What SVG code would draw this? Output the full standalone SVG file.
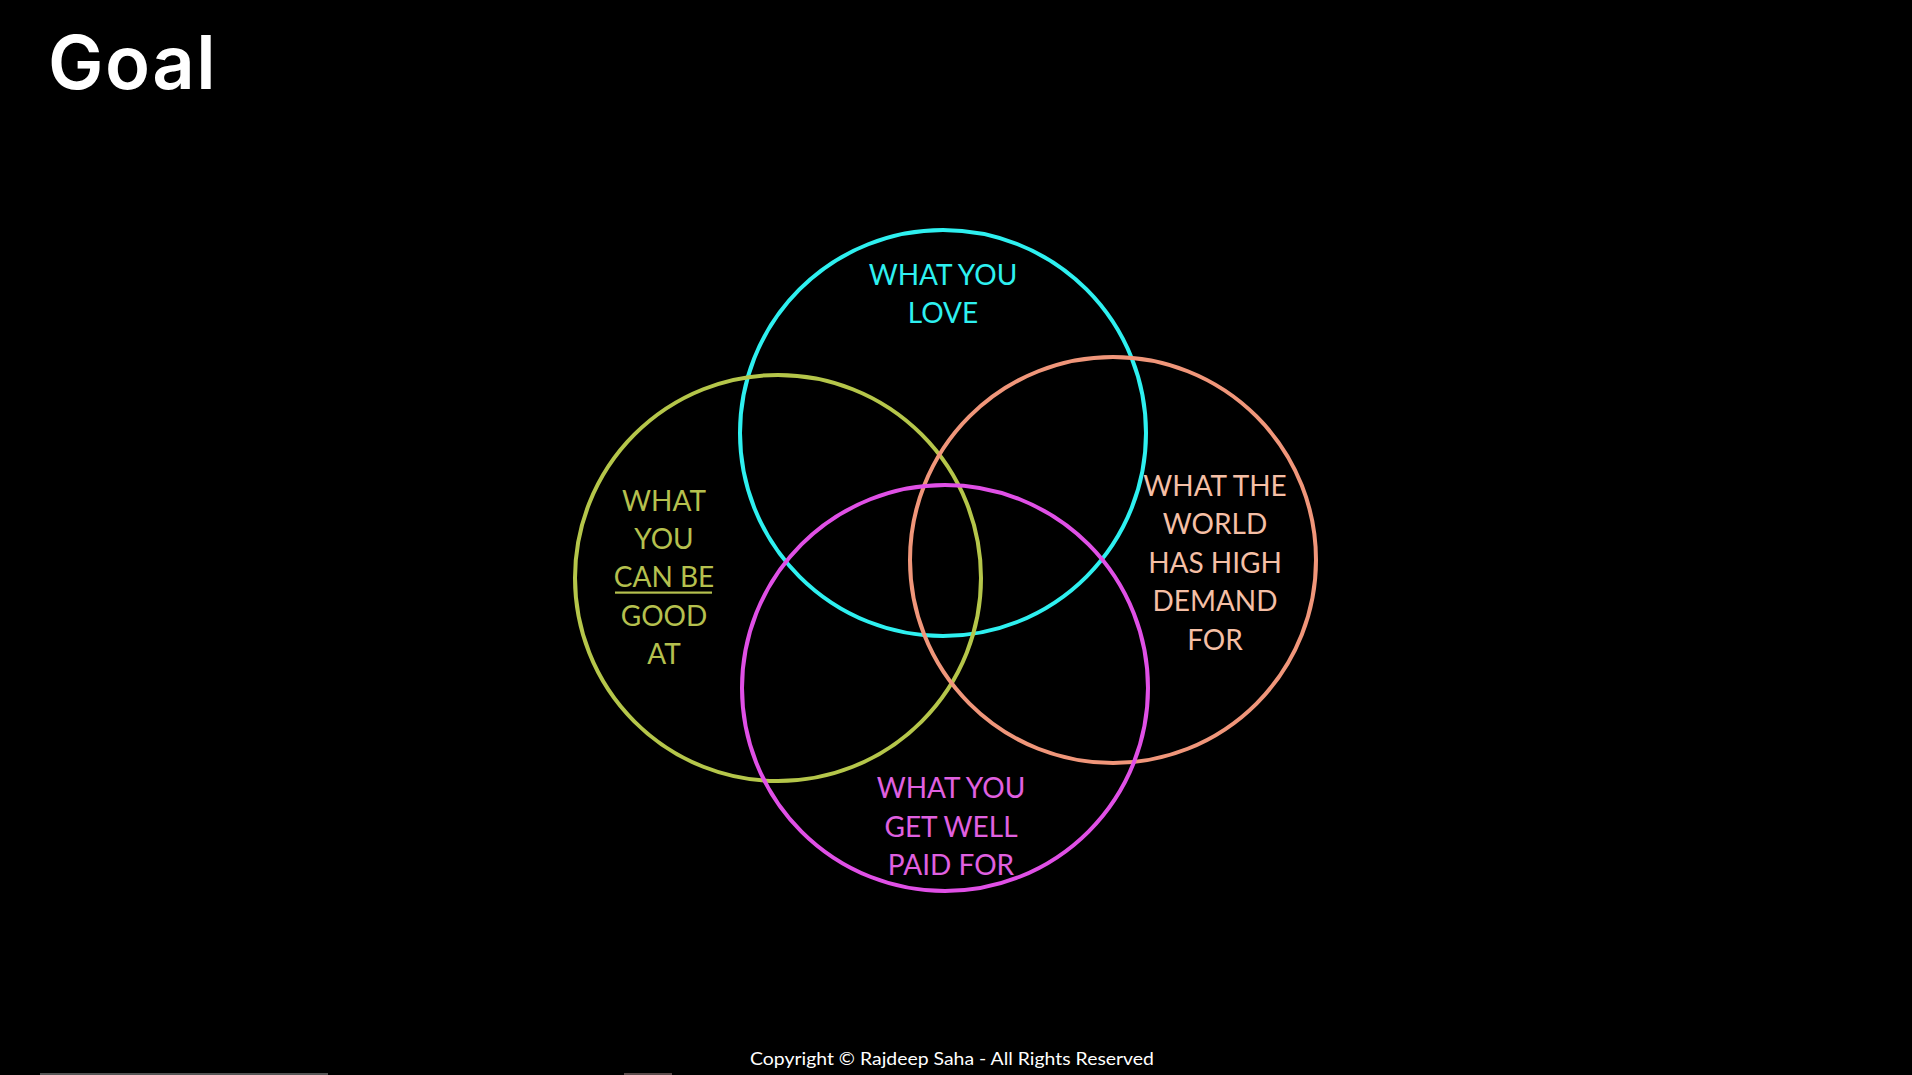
<svg xmlns="http://www.w3.org/2000/svg" width="1912" height="1075" viewBox="0 0 1912 1075">
<style>
.ring{fill:none;stroke-width:4}
.lbl{font-family:Lato,"Open Sans","Liberation Sans",sans-serif;font-size:28px;text-anchor:middle}
</style>
<rect x="0" y="0" width="1912" height="1075" fill="#000"/>
<text x="48" y="89" font-family="Inter,'Noto Sans',sans-serif" font-weight="600" font-size="74" fill="#fff" letter-spacing="1.5">Goal</text>
<g id="love">
<circle class="ring" cx="943" cy="433" r="203" stroke="#2EF0F0"/>
<text class="lbl" fill="#2EF0F0" x="943"><tspan x="943" y="285">WHAT YOU</tspan><tspan x="943" y="323">LOVE</tspan></text>
</g>
<g id="good">
<circle class="ring" cx="778" cy="578" r="203" stroke="#B5C64A"/>
<text class="lbl" fill="#B5C04E"><tspan x="664" y="511">WHAT</tspan><tspan x="664" y="549">YOU</tspan><tspan x="664" y="587">CAN BE</tspan><tspan x="664" y="626">GOOD</tspan><tspan x="664" y="664">AT</tspan></text>
<rect x="615" y="591.5" width="97" height="2.2" fill="#B5C04E"/>
</g>
<g id="world">
<circle class="ring" cx="1113" cy="560" r="203" stroke="#F0967A"/>
<text class="lbl" fill="#F5BFA5"><tspan x="1215" y="496">WHAT THE</tspan><tspan x="1215" y="534">WORLD</tspan><tspan x="1215" y="573">HAS HIGH</tspan><tspan x="1215" y="611">DEMAND</tspan><tspan x="1215" y="650">FOR</tspan></text>
</g>
<g id="paid">
<circle class="ring" cx="945" cy="688" r="203" stroke="#E050E6"/>
<text class="lbl" fill="#E060E0"><tspan x="951" y="798">WHAT YOU</tspan><tspan x="951" y="837">GET WELL</tspan><tspan x="951" y="875">PAID FOR</tspan></text>
</g>
<g id="connectors"></g>
<text x="952" y="1065" font-family="Lato,'Open Sans',sans-serif" font-size="18" fill="#fff" text-anchor="middle" textLength="404" lengthAdjust="spacingAndGlyphs">Copyright © Rajdeep Saha - All Rights Reserved</text>
<rect x="40" y="1073" width="288" height="2" fill="#555"/>
<rect x="624" y="1073" width="48" height="2" fill="#5a4a4a"/>
</svg>
